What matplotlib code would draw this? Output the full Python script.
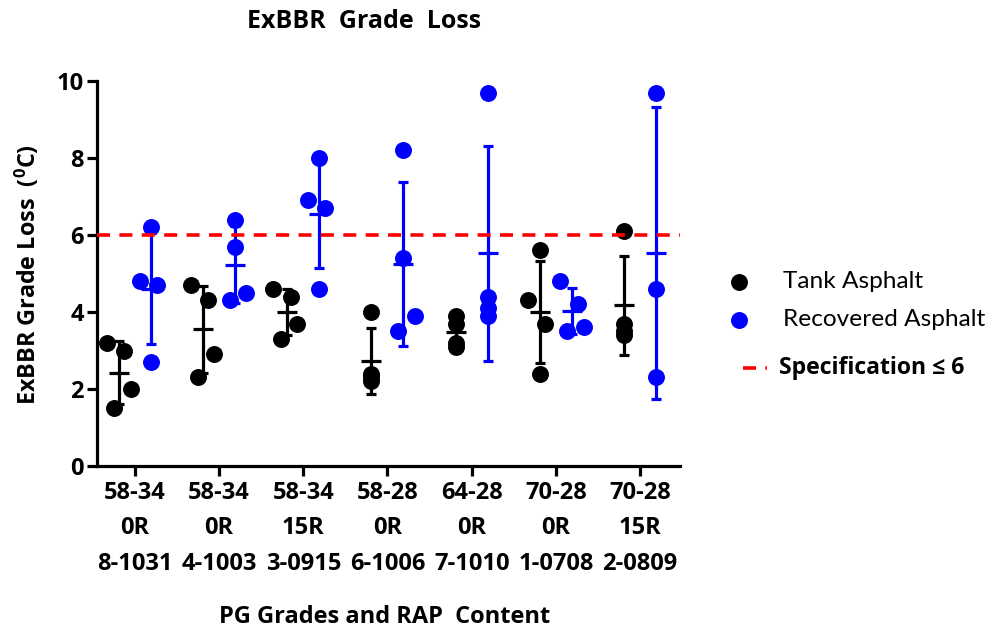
import numpy as np
import matplotlib
matplotlib.use("Agg")
import matplotlib.pyplot as plt
from matplotlib.lines import Line2D

plt.rcParams["font.family"] = ["Open Sans", "DejaVu Sans"]
plt.rcParams["mathtext.fontset"] = "custom"
plt.rcParams["mathtext.rm"] = "Open Sans:bold"
plt.rcParams["mathtext.bf"] = "Open Sans:bold"
plt.rcParams["mathtext.default"] = "bf"

# PG grade / RAP content / sample id for each group
categories = [
    "58-34\n0R\n8-1031",
    "58-34\n0R\n4-1003",
    "58-34\n15R\n3-0915",
    "58-28\n0R\n6-1006",
    "64-28\n0R\n7-1010",
    "70-28\n0R\n1-0708",
    "70-28\n15R\n2-0809",
]

# ExBBR grade loss (deg C), individual replicates
tank = [
    [3.2, 3.0, 2.0, 1.5],
    [4.7, 4.3, 2.9, 2.3],
    [4.6, 4.4, 3.7, 3.3],
    [4.0, 2.4, 2.3, 2.2],
    [3.9, 3.7, 3.2, 3.1],
    [5.6, 4.3, 3.7, 2.4],
    [6.1, 3.7, 3.5, 3.4],
]
recovered = [
    [4.8, 4.7, 6.2, 2.7],
    [6.4, 5.7, 4.5, 4.3],
    [8.0, 6.9, 6.7, 4.6],
    [8.2, 5.4, 3.9, 3.5],
    [9.7, 4.4, 4.1, 3.9],
    [4.8, 4.2, 3.6, 3.5],
    [9.7, 4.6, 2.3],
]
spec_limit = 6

# horizontal scatter of replicates (fraction of category spacing)
tank_jitter = [
    [-0.14, 0.06, 0.14, -0.06],
    [-0.14, 0.06, 0.13, -0.06],
    [-0.17, 0.04, 0.11, -0.08],
    [0.0, 0.0, 0.0, 0.0],
    [0.0, 0.0, 0.0, 0.0],
    [0.0, -0.14, 0.06, 0.0],
    [0.0, 0.0, 0.0, 0.0],
]
recovered_jitter = [
    [-0.13, 0.07, 0.0, 0.0],
    [0.0, 0.0, 0.13, -0.06],
    [0.0, -0.14, 0.07, 0.0],
    [0.0, 0.0, 0.14, -0.06],
    [0.0, 0.0, 0.0, 0.0],
    [-0.14, 0.07, 0.14, -0.06],
    [0.0, 0.0, 0.0],
]

W, H = 991, 632
fig = plt.figure(figsize=(W / 100, H / 100), dpi=100)
ax = fig.add_axes([97 / W, 1 - 466 / H, (680 - 97) / W, (466 - 81) / H])

offset = 0.19
series = [
    (tank, tank_jitter, -offset, "black"),
    (recovered, recovered_jitter, offset, "#0000FF"),
]
for data, jit, dx, color in series:
    for i, (vals, js) in enumerate(zip(data, jit)):
        vals = np.asarray(vals, dtype=float)
        xc = i + dx
        ax.plot(xc + np.asarray(js), vals, "o", color=color, ms=12.2,
                mew=0, zorder=2, clip_on=False)
        m = vals.mean()
        sd = vals.std(ddof=1)
        ax.errorbar(xc, m, yerr=sd, fmt="_", color=color, ms=15, mew=2.3,
                    elinewidth=2.3, capsize=3.8, capthick=2.3, zorder=3)

ax.axhline(spec_limit, color="#FF0000", lw=2.6, ls=(0, (3.6, 2.6)), zorder=4)

ax.set_xlim(-0.451, 6.475)
ax.set_ylim(0, 10)
ax.set_yticks([0, 2, 4, 6, 8, 10])
ax.set_xticks(range(len(categories)))
ax.set_xticklabels(categories, fontsize=17, fontweight="bold", linespacing=1.66)
for lab in ax.get_yticklabels():
    lab.set_fontsize(17)
    lab.set_fontweight("bold")

for s in ("top", "right"):
    ax.spines[s].set_visible(False)
for s in ("left", "bottom"):
    ax.spines[s].set_linewidth(2.3)
ax.tick_params(axis="both", width=2.3, length=7.5, direction="out", pad=2)
ax.tick_params(axis="x", pad=3)

fig.text(364 / W, 1 - 22 / H, "ExBBR  Grade  Loss", ha="center", va="center",
         fontsize=18, fontweight="bold")
fig.text(385 / W, 1 - 617 / H, "PG Grades and RAP  Content", ha="center",
         va="center", fontsize=17, fontweight="bold")
fig.text(28 / W, 1 - 275 / H, r"ExBBR Grade Loss  ($^{0}$C)", ha="center",
         va="center", rotation=90, fontsize=16.8, fontweight="bold")

# legend
fig.add_artist(Line2D([739 / W], [1 - 282 / H], marker="o", color="black",
                      ms=12.2, mew=0, transform=fig.transFigure))
fig.add_artist(Line2D([739 / W], [1 - 320 / H], marker="o", color="#0000FF",
                      ms=12.2, mew=0, transform=fig.transFigure))
fig.add_artist(Line2D([743 / W, 767 / W], [1 - 368 / H, 1 - 368 / H],
                      color="#FF0000", lw=2.6, ls=(0, (3.6, 2.6)),
                      transform=fig.transFigure))
fig.text(783 / W, 1 - 282 / H, "Tank Asphalt", ha="left", va="center",
         fontsize=17.6, family=["Lato", "DejaVu Sans"])
fig.text(783 / W, 1 - 320 / H, "Recovered Asphalt", ha="left", va="center",
         fontsize=17.6, family=["Lato", "DejaVu Sans"])
fig.text(779 / W, 1 - 368 / H, "Specification \u2264 6", ha="left",
         va="center", fontsize=16.6, fontweight="bold")

fig.savefig("out.png", dpi=100)
